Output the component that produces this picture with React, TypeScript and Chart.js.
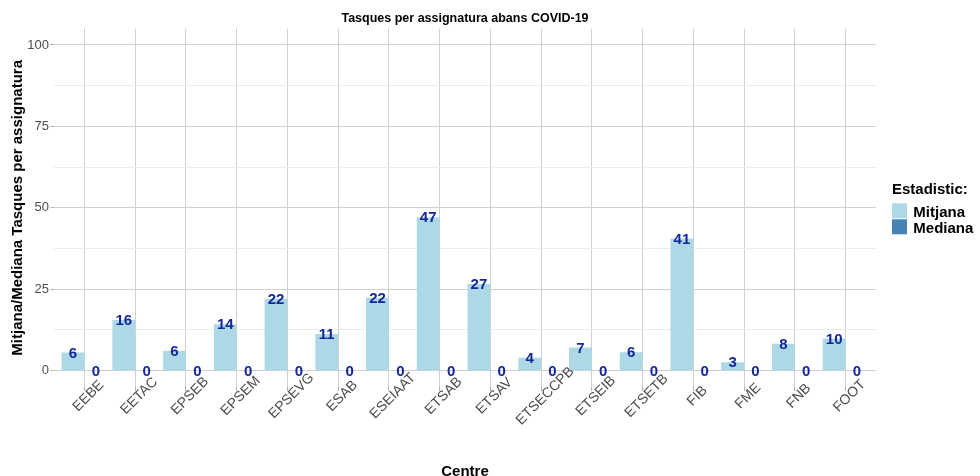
import { useEffect, useRef } from 'react';
import { Chart, registerables } from 'chart.js';

Chart.register(...registerables);

const categories = ['EEBE', 'EETAC', 'EPSEB', 'EPSEM', 'EPSEVG', 'ESAB', 'ESEIAAT', 'ETSAB', 'ETSAV', 'ETSECCPB', 'ETSEIB', 'ETSETB', 'FIB', 'FME', 'FNB', 'FOOT'];
const mitjana = [5.6, 15.6, 6.1, 14.3, 22.1, 11.3, 22.4, 47.1, 26.6, 4.0, 7.1, 5.7, 40.6, 2.6, 8.3, 9.9];
const mediana = [0, 0, 0, 0, 0, 0, 0, 0, 0, 0, 0, 0, 0, 0, 0, 0];
const seriesNames = ['Mitjana', 'Mediana'];
const seriesColors = ['#ADD8E6', '#4682B4'];
const yTicks = [0, 12.5, 25, 37.5, 50, 62.5, 75, 87.5, 100];

const title = 'Tasques per assignatura abans COVID-19';
const yTitle = 'Mitjana/Mediana Tasques per assignatura';
const xTitle = 'Centre';
const legendTitle = 'Estadistic:';

const FONT = '"Liberation Sans", Arial, Helvetica, sans-serif';
const MAJOR = '#d0d0d0';
const MINOR = '#ebebeb';

const overlay = {
  id: 'overlay',
  afterDatasetsDraw(chart: any) {
    const ctx = chart.ctx;
    ctx.save();
    ctx.font = `bold 15px ${FONT}`;
    ctx.fillStyle = '#14279a';
    ctx.textAlign = 'center';
    ctx.textBaseline = 'middle';
    chart.data.datasets.forEach((ds: any, di: number) => {
      const meta = chart.getDatasetMeta(di);
      meta.data.forEach((el: any, i: number) => {
        const v = ds.data[i].y;
        ctx.fillText(String(Math.round(v)), el.x, el.y + 1);
      });
    });
    ctx.restore();
  },
  afterDraw(chart: any) {
    const ctx = chart.ctx;
    const area = chart.chartArea;
    const xs = chart.scales.x;
    ctx.save();
    // x tick labels
    ctx.font = `14px ${FONT}`;
    ctx.fillStyle = '#4d4d4d';
    ctx.textAlign = 'center';
    ctx.textBaseline = 'middle';
    categories.forEach((c, i) => {
      const px = xs.getPixelForValue(i);
      ctx.save();
      ctx.translate(px + 4, 396);
      ctx.rotate(-Math.PI / 4);
      ctx.fillText(c, 0, 0);
      ctx.restore();
    });
    // title
    const cx = (area.left + area.right) / 2;
    ctx.fillStyle = '#000000';
    ctx.font = `bold 12.5px ${FONT}`;
    ctx.textBaseline = 'alphabetic';
    ctx.fillText(title, cx, 21.7);
    // x title
    ctx.font = `bold 15px ${FONT}`;
    ctx.fillText(xTitle, cx, 475.5);
    // y title
    ctx.save();
    ctx.translate(22.3, (area.top + area.bottom) / 2);
    ctx.rotate(-Math.PI / 2);
    ctx.fillText(yTitle, 0, 0);
    ctx.restore();
    // legend
    ctx.textAlign = 'left';
    ctx.fillText(legendTitle, 892, 193.5);
    seriesNames.forEach((n, i) => {
      const y = 203.3 + i * 16;
      ctx.fillStyle = seriesColors[i];
      ctx.fillRect(892, y, 15, 15);
      ctx.fillStyle = '#000000';
      ctx.fillText(n, 913.3, y + 13.6);
    });
    ctx.restore();
  },
};

export default function App() {
  const ref = useRef<HTMLCanvasElement>(null);
  useEffect(() => {
    if (!ref.current) return;
    const chart = new Chart(ref.current, {
      type: 'bar',
      data: {
        datasets: [mitjana, mediana].map((arr, k) => ({
          label: seriesNames[k],
          data: arr.map((v, i) => ({ x: i, y: v })),
          backgroundColor: seriesColors[k],
          borderWidth: 0,
          categoryPercentage: 0.9,
          barPercentage: 1.0,
        })),
      },
      options: {
        animation: false,
        responsive: false,
        devicePixelRatio: 1,
        layout: { padding: { top: 28.7, right: 104, left: 0, bottom: 0 } },
        plugins: { legend: { display: false }, tooltip: { enabled: false }, title: { display: false } },
        scales: {
          x: {
            type: 'linear',
            min: -0.6,
            max: 15.6,
            offset: false,
            afterBuildTicks: (s: any) => {
              s.ticks = categories.map((_, i) => ({ value: i }));
            },
            afterFit: (s: any) => {
              s.height = 89;
            },
            border: { display: false },
            grid: { color: MAJOR, lineWidth: 1, drawTicks: true, tickLength: 4, tickColor: '#b0b0b0', offset: false },
            ticks: { display: false },
          },
          y: {
            type: 'linear',
            min: -5,
            max: 105,
            afterBuildTicks: (s: any) => {
              s.ticks = yTicks.map((v) => ({ value: v }));
            },
            afterFit: (s: any) => {
              s.width = 54;
            },
            border: { display: false },
            grid: {
              color: (c: any) => (c.tick && c.tick.value % 25 === 0 ? MAJOR : MINOR),
              lineWidth: 1,
              drawTicks: true,
              tickLength: 3.5,
              tickColor: (c: any) => (c.tick && c.tick.value % 25 === 0 ? '#b0b0b0' : 'rgba(0,0,0,0)'),
            },
            ticks: {
              padding: 1.5,
              color: '#4d4d4d',
              font: { family: FONT, size: 13 },
              callback: (v: any) => (Number(v) % 25 === 0 ? String(v) : ''),
            },
          },
        },
      },
      plugins: [overlay],
    } as any);
    return () => chart.destroy();
  }, []);
  return (
    <div style={{ position: 'absolute', left: 0, top: 0, width: 980, height: 476, background: '#ffffff' }}>
      <canvas ref={ref} width={980} height={476} style={{ display: 'block' }} />
    </div>
  );
}
